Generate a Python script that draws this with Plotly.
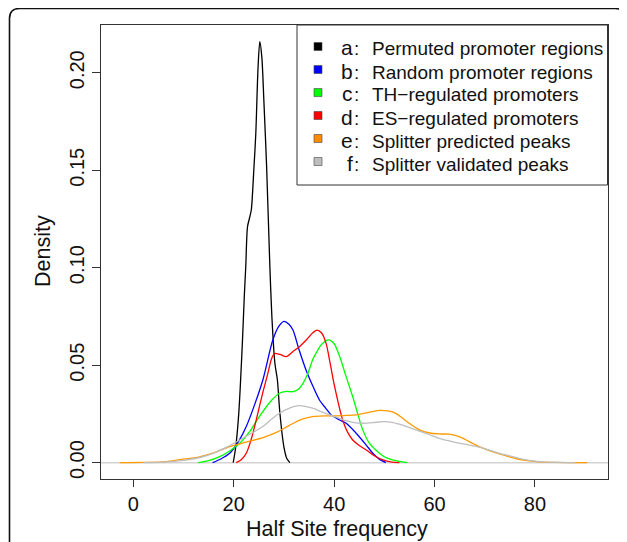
import plotly.graph_objects as go

# ---------------- data ----------------
a_x = [19.9, 20.4, 21.0, 21.7, 22.1, 22.4, 22.75, 23.2, 23.5, 24.0, 24.4, 24.85, 25.2, 25.6, 26.0, 26.55, 27.2, 27.6, 28.2, 28.7, 29.2, 30.0, 30.6, 31.2]
a_y = [0, 0.008, 0.025, 0.06, 0.085, 0.1005, 0.121, 0.126, 0.1296, 0.150, 0.169, 0.203, 0.2159, 0.208, 0.186, 0.152, 0.1005, 0.075, 0.051, 0.0424, 0.0253, 0.008, 0.002, 0]

b_x = [15.8, 17.5, 19.2, 21.0, 22.5, 24.2, 25.8, 27.8, 29.0, 30.0, 31.0, 31.8, 33.0, 34.4, 35.8, 37.1, 38.3, 39.4, 41.0, 42.4, 43.7, 45.0, 46.4, 47.7, 49.0, 50.3]
b_y = [0, 0.002, 0.0048, 0.011, 0.0185, 0.030, 0.0424, 0.063, 0.070, 0.0725, 0.071, 0.068, 0.058, 0.0475, 0.039, 0.032, 0.028, 0.0245, 0.022, 0.0202, 0.017, 0.0133, 0.009, 0.0048, 0.0018, 0]

c_x = [12.9, 15.0, 17.2, 19.2, 21.2, 23.2, 25.1, 27.2, 29.1, 30.5, 31.8, 32.8, 33.8, 34.8, 35.7, 36.6, 37.4, 38.9, 40.0, 41.1, 42.4, 43.7, 44.7, 45.7, 47.0, 48.3, 50.0, 51.6, 54.6]
c_y = [0, 0.001, 0.0031, 0.006, 0.0099, 0.016, 0.0236, 0.031, 0.0356, 0.0365, 0.0364, 0.0375, 0.0407, 0.046, 0.0527, 0.057, 0.0604, 0.063, 0.061, 0.0544, 0.044, 0.0338, 0.025, 0.0168, 0.010, 0.0065, 0.003, 0.0014, 0]

d_x = [20.5, 21.5, 22.5, 23.6, 24.8, 25.8, 26.8, 27.5, 28.1, 29.2, 30.5, 31.8, 33.1, 34.5, 35.7, 36.6, 37.5, 38.4, 39.2, 40.1, 41.7, 42.7, 43.7, 45.0, 46.4, 48.0, 49.7, 51.5, 53.0]
d_y = [0, 0.0015, 0.0048, 0.013, 0.0253, 0.036, 0.0458, 0.053, 0.056, 0.0555, 0.0544, 0.057, 0.0595, 0.063, 0.0665, 0.068, 0.0665, 0.0612, 0.051, 0.039, 0.0219, 0.0155, 0.0116, 0.0088, 0.0065, 0.0035, 0.0014, 0.0003, 0]

e_x = [-2.7, 2.0, 6.6, 9.2, 13.2, 16.0, 19.2, 22.5, 26.0, 28.5, 31.0, 33.5, 35.7, 38.0, 40.4, 42.4, 44.4, 46.7, 49.0, 50.7, 52.3, 54.5, 57.0, 59.0, 60.9, 62.9, 64.9, 66.9, 68.9, 70.9, 72.9, 74.9, 76.8, 78.8, 80.8, 84.0, 87.0, 90.4]
e_y = [0, 0.0001, 0.0005, 0.0015, 0.003, 0.005, 0.0082, 0.0105, 0.013, 0.0155, 0.019, 0.0222, 0.0236, 0.024, 0.024, 0.0242, 0.0245, 0.0257, 0.0268, 0.0265, 0.0253, 0.021, 0.0168, 0.0152, 0.0147, 0.0146, 0.0133, 0.0108, 0.0082, 0.0062, 0.0045, 0.003, 0.0017, 0.0009, 0.0004, 0.0001, 0.00003, 0]

f_x = [2.0, 6.0, 10.0, 13.0, 15.9, 18.5, 21.2, 23.5, 25.8, 27.5, 29.1, 31.0, 33.0, 35.7, 37.5, 39.1, 40.8, 42.4, 44.0, 45.7, 47.7, 49.7, 51.5, 53.0, 55.0, 57.0, 59.0, 60.9, 62.9, 64.9, 66.9, 68.9, 70.9, 72.9, 74.9, 76.8, 78.8, 80.8, 84.8, 88.0]
f_y = [0, 0.0003, 0.0012, 0.0025, 0.0048, 0.0078, 0.0116, 0.015, 0.0185, 0.0222, 0.0253, 0.0278, 0.0292, 0.0279, 0.026, 0.0245, 0.023, 0.0215, 0.0205, 0.0202, 0.0205, 0.021, 0.0207, 0.0197, 0.018, 0.0162, 0.0143, 0.0125, 0.0112, 0.01, 0.009, 0.0079, 0.0064, 0.0048, 0.0035, 0.0022, 0.0012, 0.0005, 0.0001, 0]

series_x = [a_x, b_x, c_x, d_x, e_x, f_x]
series_y = [a_y, b_y, c_y, d_y, e_y, f_y]
legend_letters = ["a", "b", "c", "d", "e", "f"]
legend_labels = ["Permuted promoter regions", "Random promoter regions",
                 "TH\u2212regulated promoters", "ES\u2212regulated promoters",
                 "Splitter predicted peaks", "Splitter validated peaks"]
line_colors = ["#000000", "#0000FF", "#00FF00", "#FF0000", "#FF9A00", "#BEBEBE"]
box_colors = ["#000000", "#0000FF", "#00FF00", "#FF0000", "#FF8C00", "#BEBEBE"]

x_ticks = [0, 20, 40, 60, 80]
y_ticks = [0.0, 0.05, 0.10, 0.15, 0.20]
y_ticktext = ["0.00", "0.05", "0.10", "0.15", "0.20"]

x_title = "Half Site frequency"
y_title = "Density"

# ---------------- layout geometry (window pixels) ----------------
WIN_W, WIN_H = 627, 542
OFF = 8  # default page body margin
W, H = WIN_W - OFF, WIN_H - OFF
PL, PR, PT, PB = 101, 608, 25, 479
FONT = "Liberation Sans, Arial, Helvetica, sans-serif"


def px_x(p):
    return (p - PL) / (PR - PL)


def px_y(p):
    return (PB - p) / (PB - PT)


fig = go.Figure()
for xs, ys, col in zip(series_x, series_y, line_colors):
    fig.add_trace(go.Scatter(x=xs, y=ys, mode="lines",
                             line=dict(color=col, width=1.3, shape="spline", smoothing=0.8),
                             showlegend=False, hoverinfo="skip"))

shapes = []
shapes.append(dict(type="line", xref="paper", yref="y", x0=0, x1=1, y0=0, y1=0,
                   line=dict(color="#D3D3D3", width=1.5), layer="below"))
fl, ft, fr, fb, rad = 9.5, 8.5, 625.0, 600.0, 10.0
path = (f"M {px_x(fl)},{px_y(fb)} L {px_x(fl)},{px_y(ft + rad)} "
        f"Q {px_x(fl)},{px_y(ft)} {px_x(fl + rad)},{px_y(ft)} "
        f"L {px_x(fr - rad)},{px_y(ft)} Q {px_x(fr)},{px_y(ft)} {px_x(fr)},{px_y(ft + rad)} "
        f"L {px_x(fr)},{px_y(fb)}")
shapes.append(dict(type="path", xref="paper", yref="paper", path=path,
                   line=dict(color="#111111", width=1.6)))
shapes.append(dict(type="rect", xref="paper", yref="paper",
                   x0=px_x(297), x1=px_x(607.5), y0=px_y(185), y1=px_y(PT),
                   line=dict(color="#333333", width=1), fillcolor="white"))

annotations = []
row0, step = 55.0, 23.0
for i, (let, lab, bc) in enumerate(zip(legend_letters, legend_labels, box_colors)):
    base = row0 + i * step
    cy = base - 8.5
    shapes.append(dict(type="rect", xref="paper", yref="paper",
                       x0=px_x(314), x1=px_x(322), y0=px_y(cy + 4), y1=px_y(cy - 4),
                       fillcolor=bc, line=dict(color="#444444", width=0.6)))
    annotations.append(dict(xref="paper", yref="paper", x=px_x(355), y=px_y(base - 7),
                            xanchor="right", yanchor="middle", showarrow=False,
                            text=let, font=dict(family=FONT, size=21, color="#111")))
    annotations.append(dict(xref="paper", yref="paper", x=px_x(351.5), y=px_y(base - 6),
                            xanchor="left", yanchor="middle", showarrow=False,
                            text=":", font=dict(family=FONT, size=19, color="#111")))
    annotations.append(dict(xref="paper", yref="paper", x=px_x(370), y=px_y(base - 6),
                            xanchor="left", yanchor="middle", showarrow=False,
                            text=lab, font=dict(family=FONT, size=19, color="#111")))

annotations.append(dict(xref="paper", yref="paper", x=px_x(337), y=px_y(529),
                        xanchor="center", yanchor="middle", showarrow=False,
                        text=x_title, font=dict(family=FONT, size=21.5, color="#111")))
annotations.append(dict(xref="paper", yref="paper", x=px_x(43), y=px_y(251),
                        xanchor="center", yanchor="middle", showarrow=False, textangle=-90,
                        text=y_title, font=dict(family=FONT, size=21.5, color="#111")))

fig.update_layout(
    width=W, height=H,
    margin=dict(l=PL - OFF, r=WIN_W - PR, t=PT - OFF, b=WIN_H - PB, pad=0),
    paper_bgcolor="white", plot_bgcolor="white",
    font=dict(family=FONT, color="#111"),
    shapes=shapes, annotations=annotations,
    xaxis=dict(range=[-6.43, 94.54], tickmode="array", tickvals=x_ticks,
               ticks="outside", ticklen=7, tickcolor="#333", tickwidth=1,
               showline=True, mirror=True, linecolor="#333", linewidth=1,
               showgrid=False, zeroline=False, tickfont=dict(size=20, family=FONT, color="#111")),
    yaxis=dict(range=[-0.0084, 0.2245], tickmode="array", tickvals=y_ticks, ticktext=y_ticktext,
               tickangle=-90, ticks="outside", ticklen=8, tickcolor="#333", tickwidth=1,
               showline=True, mirror=True, linecolor="#333", linewidth=1,
               showgrid=False, zeroline=False, tickfont=dict(size=20, family=FONT, color="#111")),
    showlegend=False,
)

fig.write_html("out.html")
